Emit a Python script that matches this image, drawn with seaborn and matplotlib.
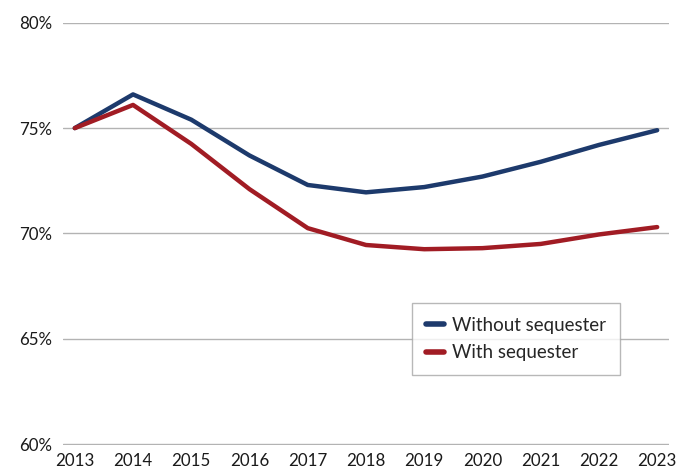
import pandas as pd
import seaborn as sns
import matplotlib.pyplot as plt
from matplotlib.ticker import PercentFormatter

# values (percent)
years = [2013, 2014, 2015, 2016, 2017, 2018, 2019, 2020, 2021, 2022, 2023]
without_seq = [75.0, 76.6, 75.4, 73.7, 72.3, 71.95, 72.2, 72.7, 73.4, 74.2, 74.9]
with_seq = [75.0, 76.1, 74.25, 72.1, 70.25, 69.45, 69.25, 69.3, 69.5, 69.95, 70.3]
series_names = ["Without sequester", "With sequester"]
colors = ["#1d3a6c", "#a11c24"]

df = pd.DataFrame({
    "year": years * 2,
    "value": without_seq + with_seq,
    "series": [series_names[0]] * len(years) + [series_names[1]] * len(years),
})

sns.set_style("white")
plt.rcParams["font.family"] = ["Lato", "DejaVu Sans"]

fig = plt.figure(figsize=(6.79, 4.75), dpi=100)
ax = fig.add_axes([0.093, 0.063, 0.892, 0.889])

sns.lineplot(data=df, x="year", y="value", hue="series", palette=colors,
             linewidth=3.2, ax=ax, legend=True)

ax.set_ylim(59.95, 80)
ax.set_xlim(2012.8, 2023.2)
ax.set_yticks([60, 65, 70, 75, 80])
ax.set_xticks(years)
ax.yaxis.set_major_formatter(PercentFormatter(decimals=0))
ax.grid(axis="y", color="#b3b3b3", linewidth=1)
ax.set_axisbelow(True)
for s in ax.spines.values():
    s.set_visible(False)
ax.tick_params(axis="both", length=0, labelsize=12.2, colors="#1a1a1a")
ax.tick_params(axis="y", pad=8)
ax.tick_params(axis="x", pad=6)
ax.set_xlabel("")
ax.set_ylabel("")

leg = ax.legend(title=None, loc="upper left", bbox_to_anchor=(0.576, 0.337),
                borderaxespad=0, fontsize=13.5, frameon=True, fancybox=False,
                handlelength=0.95, handletextpad=0.45, borderpad=0.75,
                labelspacing=0.55)
leg.get_frame().set_edgecolor("#a6a6a6")
leg.get_frame().set_linewidth(1)
for line in leg.get_lines():
    line.set_linewidth(4)
    line.set_solid_capstyle("round")

fig.savefig("out.png", dpi=100)
